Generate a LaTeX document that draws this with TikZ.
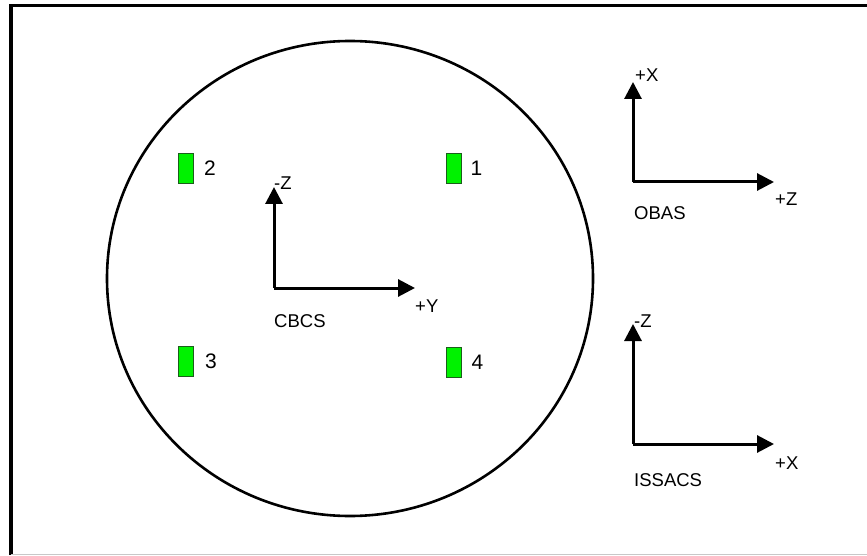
\documentclass[tikz,border=0pt]{standalone}
\usepackage{fontspec}
\setmainfont{Liberation Sans}
\usepackage{xcolor}
\usepackage{tikz}
\usetikzlibrary{arrows.meta,positioning}
\definecolor{sensorgreen}{HTML}{00F200}
\definecolor{sensoredge}{HTML}{1B5E1B}
\definecolor{framegray}{HTML}{C8C8C8}
\tikzset{
    every picture/.style={line join=miter},
    sensorbox/.style={draw=sensoredge,fill=sensorgreen,line width=0.9pt,
      minimum width=15pt,minimum height=30pt,inner sep=0pt},
    sensornum/.style={font=\fontsize{21}{21}\selectfont,inner sep=0pt},
    axisarrow/.style={-{Triangle[length=17pt,width=17pt]},line width=3pt},
    axislabel/.style={font=\fontsize{18.5}{18.5}\selectfont,inner sep=0pt}
}

\begin{document}
\begin{tikzpicture}[x=1pt,y=-1pt]
    \useasboundingbox (0,0) rectangle (867,556);
    % frame
    \draw[line width=3.5pt] (11,555) -- (11,5.5) -- (875,5.5);
    \draw[framegray,line width=1pt] (11,554.5) -- (875,554.5);
    % body outline
    \draw[line width=2.6pt] (350,278.5) ellipse [x radius=243,y radius=237.5];
    % sensors
    \node[sensorbox] (s1) at (453.5,168) {};
    \node[sensorbox] (s2) at (186,168) {};
    \node[sensorbox] (s3) at (186,361.5) {};
    \node[sensorbox] (s4) at (453.5,362) {};
    \node[sensornum,right=9pt of s1] (n1) {1};
    \node[sensornum,right=10pt of s2] (n2) {2};
    \node[sensornum,right=11pt of s3] (n3) {3};
    \node[sensornum,right=10pt of s4] (n4) {4};
    % CBCS axes
    \coordinate (cbcs) at (274,288);
    \coordinate[above=101pt of cbcs] (cbcsZ);
    \coordinate[right=141pt of cbcs] (cbcsY);
    \draw[axisarrow] (cbcs) -- (cbcsZ);
    \draw[axisarrow] (cbcs) -- (cbcsY);
    \node[axislabel,right=0pt of cbcsZ,yshift=4pt] (cbcsZlab) {-Z};
    \node[axislabel,below right=12pt and 0pt of cbcsY] (cbcsYlab) {+Y};
    \node[axislabel,below right=26pt and 0pt of cbcs] (cbcslab) {CBCS};
    % OBAS axes
    \coordinate (obas) at (633,182);
    \coordinate[above=100pt of obas] (obasX);
    \coordinate[right=141pt of obas] (obasZ);
    \draw[axisarrow] (obas) -- (obasX);
    \draw[axisarrow] (obas) -- (obasZ);
    \node[axislabel,right=2pt of obasX,yshift=7pt] (obasXlab) {+X};
    \node[axislabel,below right=11pt and 1pt of obasZ] (obasZlab) {+Z};
    \node[axislabel,below right=24pt and 1pt of obas] (obaslab) {OBAS};
    % ISSACS axes
    \coordinate (issacs) at (633,444);
    \coordinate[above=120pt of issacs] (issacsZ);
    \coordinate[right=141pt of issacs] (issacsX);
    \draw[axisarrow] (issacs) -- (issacsZ);
    \draw[axisarrow] (issacs) -- (issacsX);
    \node[axislabel,right=1pt of issacsZ,yshift=3pt] (issacsZlab) {-Z};
    \node[axislabel,below right=13pt and 1pt of issacsX] (issacsXlab) {+X};
    \node[axislabel,below right=29pt and 1pt of issacs] (issacslab) {ISSACS};
\end{tikzpicture}
\end{document}
